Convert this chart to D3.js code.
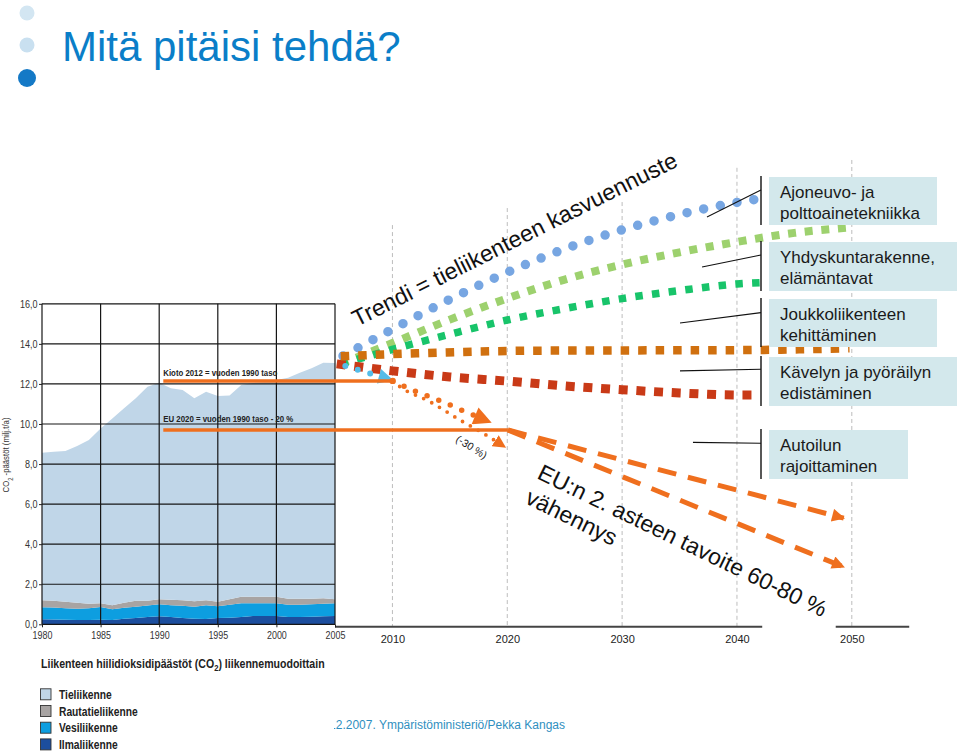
<!DOCTYPE html>
<html>
<head>
<meta charset="utf-8">
<script src="https://cdn.jsdelivr.net/npm/d3@7/dist/d3.min.js"></script>
<style>
html,body{margin:0;padding:0;background:#fff;}
svg{display:block;}
</style>
</head>
<body>
<svg id="chart" width="960" height="755"></svg>
<script>
// ---------- DATA ----------
// Historical CO2 emissions of transport by mode (milj. t/a), 1980-2005
const years = [1980,1981,1982,1983,1984,1985,1986,1987,1988,1989,1990,1991,1992,1993,1994,1995,1996,1997,1998,1999,2000,2001,2002,2003,2004,2005];
const tieliikenne      = [7.37,7.45,7.53,7.82,8.17,8.73,9.33,9.70,10.10,10.68,10.81,10.56,10.50,10.13,10.41,10.28,10.17,10.58,10.67,10.72,10.82,11.03,11.28,11.50,11.76,11.80];
const rautatieliikenne = [0.35,0.33,0.32,0.30,0.23,0.19,0.20,0.25,0.30,0.24,0.25,0.27,0.27,0.27,0.25,0.22,0.27,0.32,0.33,0.33,0.33,0.30,0.30,0.28,0.28,0.20];
const vesiliikenne     = [0.60,0.60,0.57,0.56,0.58,0.63,0.53,0.55,0.56,0.58,0.60,0.59,0.61,0.60,0.68,0.58,0.65,0.68,0.63,0.63,0.63,0.61,0.62,0.62,0.62,0.63];
const ilmaliikenne     = [0.25,0.24,0.23,0.22,0.22,0.23,0.22,0.28,0.32,0.36,0.40,0.36,0.32,0.28,0.27,0.32,0.33,0.37,0.42,0.42,0.42,0.37,0.36,0.38,0.40,0.42];

const legendLabels = ["Tieliikenne","Rautatieliikenne","Vesiliikenne","Ilmaliikenne"];
const leftYTicks = [0,2,4,6,8,10,12,14,16];
const leftXTicks = [1980,1985,1990,1995,2000,2005];
const rightXTicks = [2010,2020,2030,2040,2050];

// Target levels
const kiotoLevel = 12.15;   // Kioto 2012 = vuoden 1990 taso
const eu2020Level = 9.7;    // EU 2020 = vuoden 1990 taso - 20 %

// Scenario lines 2005-2050
const trendYears   = [2005.7,2010,2015,2020,2025,2030,2035,2040,2042.3];
const trendValues  = [13.4,14.73,16.22,17.57,18.74,19.69,20.46,21.06,21.27];
const yhdYears     = [2005.5,2010,2015,2020,2025,2030,2035,2040,2045,2049.6];
const yhdValues    = [13.0,14.04,15.21,16.27,17.21,17.96,18.57,19.09,19.54,19.8];
const joukkoYears  = [2005.5,2010,2015,2020,2025,2030,2035,2040,2042.7];
const joukkoValues = [13.0,13.72,14.48,15.19,15.76,16.26,16.66,16.99,17.07];
const kavelyYears  = [2005.5,2012.1,2022.6,2040.7,2049.8];
const kavelyValues = [13.38,13.53,13.66,13.69,13.78];
const autoYears    = [2005.15,2010,2015,2020,2025,2030,2035,2040,2041.8];
const autoValues   = [13.0,12.65,12.35,12.14,11.9,11.71,11.55,11.45,11.45];
const roadToKiotoYears  = [2005.9,2007.8,2009.96];
const roadToKiotoValues = [12.9,12.56,12.2];
const minus30aYears  = [2010.02,2012.1,2014.2,2016.2,2018.5];
const minus30aValues = [12.15,11.61,11.15,10.65,10.1];
const minus30bYears  = [2010.02,2010.66,2013.27,2015.88,2017.9,2019.8];
const minus30bValues = [12.15,11.86,11.11,10.2,9.54,8.85];
const eu60Years  = [2020.06,2049.3];
const eu60Values = [9.7,5.3];
const eu80Years  = [2020.06,2049.3];
const eu80Values = [9.7,2.86];

// ---------- SETUP ----------
const svg = d3.select("#chart");
const sans = "'Liberation Sans',Arial,Helvetica,sans-serif";
// condensed look: Liberation Sans squeezed horizontally
function condense(sel, factor){
  sel.each(function(){
    const len = this.getComputedTextLength();
    d3.select(this).attr("textLength", len*factor).attr("lengthAdjust","spacingAndGlyphs");
  });
}

const x = d3.scaleLinear().domain([1980,2005,2050]).range([42,335,851.8]);
const y = d3.scaleLinear().domain([0,16]).range([624.3,303.8]);

const defs = svg.append("defs");
function marker(id, color, w, h){
  defs.append("marker").attr("id",id)
    .attr("viewBox","0 0 10 10").attr("refX",9).attr("refY",5)
    .attr("markerUnits","userSpaceOnUse")
    .attr("markerWidth",w).attr("markerHeight",h)
    .attr("orient","auto")
    .append("path").attr("d","M0,0 L10,5 L0,10 Z").attr("fill",color);
}
const orange = "#ef6f1e";
marker("arrEU", orange, 15, 13);
marker("arrBig", orange, 19, 18);
marker("arrSmall", orange, 13, 13);
marker("arrBlue", "#55bce8", 20, 15);

// ---------- TITLE ----------
svg.append("circle").attr("cx",27).attr("cy",13).attr("r",7.5).attr("fill","#d3e6f2");
svg.append("circle").attr("cx",27).attr("cy",45).attr("r",7.5).attr("fill","#c9e0f0");
svg.append("circle").attr("cx",27).attr("cy",78).attr("r",9).attr("fill","#1479c6");
svg.append("text").attr("x",62).attr("y",61)
  .style("font-family",sans).style("font-size","42px").attr("fill","#0a7ec8")
  .text("Mitä pitäisi tehdä?");

// ---------- FOOTER (partly hidden behind the left chart) ----------
defs.append("clipPath").attr("id","footClip").append("rect")
  .attr("x",334).attr("y",700).attr("width",600).attr("height",50);
svg.append("text").attr("x",565).attr("y",729).attr("text-anchor","end")
  .attr("clip-path","url(#footClip)")
  .style("font-family",sans).style("font-size","12px").attr("fill","#2f8fc0")
  .text("12.12.2007. Ympäristöministeriö/Pekka Kangas");

// ---------- RIGHT CHART: grid & axis ----------
const gridTop = [19.93,20.78,21.08,22.79,23.18];
svg.append("g").selectAll("line").data(rightXTicks).join("line")
  .attr("x1",d=>x(d)).attr("x2",d=>x(d))
  .attr("y1",(d,i)=>y(gridTop[i])).attr("y2",y(0)+2)
  .attr("stroke","#bdbdbd").attr("stroke-width",1).attr("stroke-dasharray","4 3");

const axisSegments = [[2005,2042.2],[2048.6,2055]];
svg.append("g").selectAll("line").data(axisSegments).join("line")
  .attr("x1",d=>x(d[0])).attr("x2",d=>x(d[1]))
  .attr("y1",y(0)+2.4).attr("y2",y(0)+2.4)
  .attr("stroke","#444").attr("stroke-width",2);

const rAxis = svg.append("g").attr("transform",`translate(0,${y(0)+2.4})`)
  .call(d3.axisBottom(x).tickValues(rightXTicks).tickSize(0).tickPadding(9).tickFormat(d3.format("d")));
rAxis.select(".domain").remove();
rAxis.selectAll("text").style("font-family",sans).style("font-size","11px").attr("fill","#222");

// ---------- RIGHT CHART: scenario lines ----------
const line = d3.line().x(d=>x(d[0])).y(d=>y(d[1])).curve(d3.curveMonotoneX);
const pairs = (ys,vs)=>ys.map((yr,i)=>[yr,vs[i]]);
const g = svg.append("g");
function draw(ys,vs,color,width,dash,cap,mk){
  const p = g.append("path").attr("d",line(pairs(ys,vs)))
    .attr("fill","none").attr("stroke",color).attr("stroke-width",width)
    .attr("stroke-dasharray",dash).attr("stroke-linecap",cap);
  if(mk) p.attr("marker-end",`url(#${mk})`);
  return p;
}
draw(trendYears,trendValues,"#77a6e2",9.5,"0 17","round");
draw(yhdYears,yhdValues,"#9dd16e",8,"8 8.7","butt");
draw(joukkoYears,joukkoValues,"#18c46a",7.5,"7.5 9.3","butt");
draw(autoYears,autoValues,"#c93a17",9,"9 8.7","butt");
draw(kavelyYears,kavelyValues,"#d0700f",8.5,"8.5 9","butt");
draw(roadToKiotoYears,roadToKiotoValues,"#55bce8",6,"0 13","round","arrBlue");

// ---------- LEFT CHART ----------
const table = years.map((yr,i)=>({year:yr, ilma:ilmaliikenne[i], vesi:vesiliikenne[i], rautatie:rautatieliikenne[i], tie:tieliikenne[i]}));
const keys = ["ilma","vesi","rautatie","tie"];
const colors = {tie:"#c0d6e8", rautatie:"#a8a4a3", vesi:"#0d9ee0", ilma:"#1c4e9e"};
const series = d3.stack().keys(keys)(table);
const area = d3.area().x(d=>x(d.data.year)).y0(d=>y(d[0])).y1(d=>y(d[1]));
const lg = svg.append("g");
lg.selectAll("path").data(series).join("path")
  .attr("d",area).attr("fill",d=>colors[d.key]);

// grid
lg.append("g").selectAll("line").data(leftYTicks).join("line")
  .attr("x1",x(1980)).attr("x2",x(2005)).attr("y1",d=>y(d)).attr("y2",d=>y(d))
  .attr("stroke","#161616").attr("stroke-width",1.2);
lg.append("g").selectAll("line").data(leftXTicks).join("line")
  .attr("x1",d=>x(d)).attr("x2",d=>x(d)).attr("y1",y(0)).attr("y2",y(16))
  .attr("stroke","#161616").attr("stroke-width",1.2);

const fmt = d=>d3.format(".1f")(d).replace(".",",");
const ly = lg.append("g").attr("transform",`translate(${x(1980)},0)`)
  .call(d3.axisLeft(y).tickValues(leftYTicks).tickSize(3).tickPadding(1.5).tickFormat(fmt));
ly.select(".domain").remove();
ly.selectAll("line").attr("stroke","#222");
ly.selectAll("text").style("font-family",sans).style("font-size","10px").attr("fill","#333")
  .call(condense,0.9);

const lx = lg.append("g").attr("transform",`translate(0,${y(0)})`)
  .call(d3.axisBottom(x).tickValues(leftXTicks).tickSize(3).tickPadding(4).tickFormat(d3.format("d")));
lx.select(".domain").remove();
lx.selectAll("line").attr("stroke","#222");
lx.selectAll("text").style("font-family",sans).style("font-size","10.5px").attr("fill","#333")
  .call(condense,0.85);

// y axis title (condensed through a horizontal squeeze of its rotated group)
const ytg = lg.append("g").attr("transform","translate(9,455) rotate(-90)");
const yt = ytg.append("text").attr("text-anchor","middle")
  .style("font-family",sans).style("font-size","9.5px").attr("fill","#333");
yt.append("tspan").text("CO");
yt.append("tspan").attr("baseline-shift","sub").style("font-size","7px").text("2");
yt.append("tspan").text(" -päästöt (milj.t/a)");
yt.attr("transform","scale(0.82,1)");

// ---------- TARGET LINES ----------
svg.append("line").attr("x1",x(1990.35)).attr("x2",x(2010.02))
  .attr("y1",y(kiotoLevel)).attr("y2",y(kiotoLevel))
  .attr("stroke",orange).attr("stroke-width",3.5);
svg.append("line").attr("x1",x(1990.35)).attr("x2",x(2020.06))
  .attr("y1",y(eu2020Level)).attr("y2",y(eu2020Level))
  .attr("stroke",orange).attr("stroke-width",3.5);
svg.append("circle").attr("cx",x(2010.02)).attr("cy",y(kiotoLevel)).attr("r",3.2).attr("fill",orange);

svg.append("text").attr("x",x(1990.35)).attr("y",y(kiotoLevel)-4.5)
  .style("font-family",sans).style("font-size","9.5px").style("font-weight","bold").attr("fill","#222")
  .text("Kioto 2012 = vuoden 1990 taso")
  .attr("textLength",114).attr("lengthAdjust","spacingAndGlyphs");
svg.append("text").attr("x",x(1990.35)).attr("y",y(eu2020Level)-8)
  .style("font-family",sans).style("font-size","9.5px").style("font-weight","bold").attr("fill","#222")
  .text("EU 2020 = vuoden 1990 taso - 20 %")
  .attr("textLength",130).attr("lengthAdjust","spacingAndGlyphs");

draw(minus30aYears,minus30aValues,orange,5.5,"0 12.5","round","arrBig");
draw(minus30bYears,minus30bValues,orange,3.8,"0 9","round","arrSmall");
draw(eu60Years,eu60Values,orange,5,"19 12","butt","arrEU");
draw(eu80Years,eu80Values,orange,5,"19 12","butt","arrEU");

// ---------- LEGEND ----------
const ltg = svg.append("g").attr("transform","translate(41,668)");
const lt = ltg.append("text").attr("x",0).attr("y",0)
  .style("font-family",sans).style("font-size","12.5px").style("font-weight","bold").attr("fill","#222");
lt.append("tspan").text("Liikenteen hiilidioksidipäästöt (CO");
lt.append("tspan").attr("dy",3).style("font-size","9px").text("2");
lt.append("tspan").attr("dy",-3).text(") liikennemuodoittain");
const ltLen = lt.node().getComputedTextLength();
lt.attr("transform",`scale(${284/ltLen},1)`);

const legendKeys = ["tie","rautatie","vesi","ilma"];
const leg = svg.append("g").selectAll("g").data(legendLabels).join("g")
  .attr("transform",(d,i)=>`translate(40.5,${694.3+i*16.7})`);
leg.append("rect").attr("x",0).attr("y",-5.5).attr("width",10.5).attr("height",11)
  .attr("fill",(d,i)=>colors[legendKeys[i]]).attr("stroke","#333").attr("stroke-width",0.9);
leg.append("text").attr("x",18.5).attr("y",4.5)
  .style("font-family",sans).style("font-size","12.5px").style("font-weight","bold").attr("fill","#222")
  .text(d=>d)
  .call(condense,0.82);

// ---------- ANNOTATION TEXTS ----------
svg.append("text").attr("transform","translate(357,327) rotate(-26.6)")
  .style("font-family",sans).style("font-size","23px").attr("fill","#111")
  .text("Trendi = tieliikenteen kasvuennuste");
const eut = svg.append("text").attr("transform","translate(536,478) rotate(26)")
  .style("font-family",sans).style("font-size","23px").attr("fill","#111");
eut.append("tspan").attr("x",0).text("EU:n 2. asteen tavoite 60-80 %");
eut.append("tspan").attr("x",0).attr("dy","1.2em").text("vähennys");
svg.append("text").attr("transform","translate(455,441) rotate(32)")
  .style("font-family",sans).style("font-size","10.5px").attr("fill","#222")
  .text("(-30 %)");

// ---------- MEASURE LABELS ----------
const boxes = [
 {x:769,y:177,w:168,h:48,lines:["Ajoneuvo- ja","polttoainetekniikka"]},
 {x:769,y:242,w:188,h:49,lines:["Yhdyskuntarakenne,","elämäntavat"]},
 {x:769,y:299,w:168,h:48,lines:["Joukkoliikenteen","kehittäminen"]},
 {x:769,y:357,w:188,h:49,lines:["Kävelyn ja pyöräilyn","edistäminen"]},
 {x:769,y:430,w:139,h:49,lines:["Autoilun","rajoittaminen"]}
];
const leaders = [
 [[2037.39,20.33],[2042.09,21.68]],
 [[2036.96,17.84],[2042.09,18.44]],
 [[2035.04,15.04],[2042.09,15.56]],
 [[2035.04,12.65],[2042.09,12.73]],
 [[2036.17,9.08],[2042.09,9.04]]
];
const bg = svg.append("g");
bg.selectAll("rect").data(boxes).join("rect")
  .attr("x",d=>d.x).attr("y",d=>d.y).attr("width",d=>d.w).attr("height",d=>d.h)
  .attr("fill","#d3e8ec");
bg.selectAll("line.br").data(boxes).join("line").attr("class","br")
  .attr("x1",761).attr("x2",761).attr("y1",d=>d.y-1).attr("y2",d=>d.y+d.h)
  .attr("stroke","#111").attr("stroke-width",1.4);
bg.selectAll("line.ld").data(leaders).join("line").attr("class","ld")
  .attr("x1",d=>x(d[0][0])).attr("y1",d=>y(d[0][1]))
  .attr("x2",d=>x(d[1][0])).attr("y2",d=>y(d[1][1]))
  .attr("stroke","#111").attr("stroke-width",1.1);
bg.selectAll("text").data(boxes).join("text")
  .style("font-family",sans).style("font-size","17px").attr("fill","#1a1a1a")
  .each(function(d){
    const t = d3.select(this);
    d.lines.forEach((s,i)=>t.append("tspan").attr("x",d.x+11).attr("y",d.y+21+i*21).text(s));
  });
</script>
</body>
</html>
